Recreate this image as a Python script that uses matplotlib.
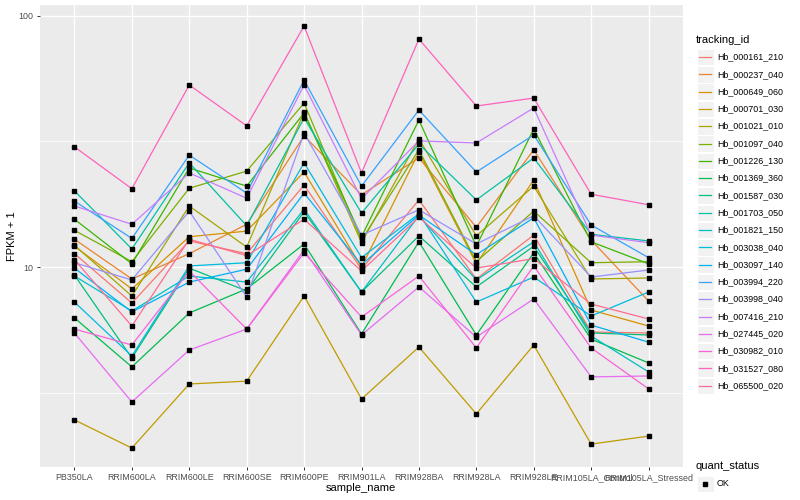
import numpy as np
import matplotlib
matplotlib.use("Agg")
import matplotlib.pyplot as plt
from matplotlib.patches import Rectangle
from matplotlib.ticker import FixedLocator, NullFormatter

plt.rcParams["font.family"] = ["Liberation Sans", "DejaVu Sans"]

# =====================================================
# DATA (FPKM + 1)
# =====================================================

samples = ["PB350LA", "RRIM600LA", "RRIM600LE", "RRIM600SE", "RRIM600PE",
           "RRIM901LA", "RRIM928BA", "RRIM928LA", "RRIM928LE",
           "RRIM105LA_Control", "RRIM105LA_Stressed"]

tracking_ids = ["Hb_000161_210", "Hb_000237_040", "Hb_000649_060", "Hb_000701_030",
                "Hb_001021_010", "Hb_001097_040", "Hb_001226_130", "Hb_001369_360",
                "Hb_001587_030", "Hb_001703_050", "Hb_001821_150", "Hb_003038_040",
                "Hb_003097_140", "Hb_003994_220", "Hb_003998_040", "Hb_007416_210",
                "Hb_027445_020", "Hb_030982_010", "Hb_031527_080", "Hb_065500_020"]

hb_000161_210 = [11.3, 7.19, 12.7, 11.3, 21.2, 9.8, 18.5, 8.96, 13.4, 5.51, 5.46]
hb_000237_040 = [12.9, 8.96, 11.3, 14.8, 33.3, 19.4, 27.2, 14.4, 29.3, 12.8, 7.32]
hb_000649_060 = [12.1, 8.18, 13.2, 13.9, 23.9, 10.0, 28.7, 10.3, 22.2, 6.74, 5.82]
hb_000701_030 = [2.46, 1.90, 3.42, 3.51, 7.66, 2.98, 4.80, 2.60, 4.89, 1.97, 2.12]
hb_001021_010 = [12.2, 7.66, 17.5, 12.0, 41.4, 12.5, 32.4, 13.3, 21.0, 8.96, 9.04]
hb_001097_040 = [14.0, 10.5, 20.6, 24.1, 45.0, 12.8, 29.3, 10.5, 16.7, 10.4, 10.5]
hb_001226_130 = [15.5, 10.3, 24.8, 21.0, 41.1, 13.2, 38.5, 12.1, 35.5, 12.6, 10.3]
hb_001369_360 = [6.27, 4.00, 6.56, 8.18, 12.35, 5.41, 12.6, 5.36, 11.4, 5.16, 4.15]
hb_001587_030 = [9.29, 4.34, 9.9, 8.03, 16.6, 7.95, 13.3, 8.33, 12.1, 5.46, 5.36]
hb_001703_050 = [20.1, 11.8, 26.0, 14.6, 39.2, 16.4, 30.9, 18.5, 27.2, 13.5, 12.7]
hb_001821_150 = [9.21, 6.68, 9.21, 8.71, 17.0, 7.95, 16.0, 8.88, 12.6, 5.31, 3.82]
hb_003038_040 = [7.25, 4.42, 10.1, 10.4, 26.0, 10.9, 16.3, 7.25, 9.12, 6.38, 7.95]
hb_003097_140 = [9.9, 6.62, 8.71, 9.8, 19.7, 10.2, 16.1, 11.2, 15.7, 5.87, 5.02]
hb_003994_220 = [18.3, 13.0, 27.9, 19.7, 55.6, 21.0, 42.2, 23.9, 33.6, 14.7, 10.9]
hb_003998_040 = [10.4, 8.88, 16.7, 7.59, 34.2, 13.4, 16.9, 12.35, 16.0, 9.12, 9.73]
hb_007416_210 = [17.5, 14.8, 23.7, 18.8, 53.1, 18.7, 31.8, 31.2, 43.0, 13.4, 12.5]
hb_027445_020 = [5.46, 2.90, 4.67, 5.66, 11.7, 5.36, 8.33, 5.26, 7.46, 3.65, 3.68]
hb_030982_010 = [5.66, 4.89, 9.64, 5.66, 11.4, 6.32, 9.21, 4.76, 10.1, 4.76, 3.27]
hb_031527_080 = [30.1, 20.5, 53.1, 36.5, 91.2, 23.7, 80.9, 43.8, 47.1, 19.5, 17.7]
hb_065500_020 = [10.7, 5.82, 12.9, 11.1, 15.5, 9.64, 15.8, 9.9, 10.8, 7.12, 6.21]

series = [hb_000161_210, hb_000237_040, hb_000649_060, hb_000701_030,
          hb_001021_010, hb_001097_040, hb_001226_130, hb_001369_360,
          hb_001587_030, hb_001703_050, hb_001821_150, hb_003038_040,
          hb_003097_140, hb_003994_220, hb_003998_040, hb_007416_210,
          hb_027445_020, hb_030982_010, hb_031527_080, hb_065500_020]

# ggplot hue palette, 20 levels
colors = ["#F8766D", "#EA8331", "#D89000", "#C09B00", "#A3A500", "#7CAE00",
          "#39B600", "#00BB4E", "#00BF7D", "#00C1A3", "#00BFC4", "#00BAE0",
          "#00B0F6", "#35A2FF", "#9590FF", "#C77CFF", "#E76BF3", "#FA62DB",
          "#FF62BC", "#FF6C91"]

# =====================================================
# PLOT
# =====================================================

W, H = 800, 500
fig = plt.figure(figsize=(8, 5), dpi=100)
ax = fig.add_axes([40 / W, 1 - 467 / H, (683 - 40) / W, (467 - 5) / H])
ax.set_facecolor("#EBEBEB")
for s in ax.spines.values():
    s.set_visible(False)

x = np.arange(1, len(samples) + 1)
for vals, col in zip(series, colors):
    ax.plot(x, vals, color=col, lw=0.9, zorder=2)
    ax.plot(x, vals, ls="none", marker="s", ms=2.3, color="black", zorder=3)

ax.set_yscale("log")
ax.set_ylim(1.597, 110.6)
ax.set_xlim(0.4, 11.6)

ax.yaxis.set_major_locator(FixedLocator([10, 100]))
ax.set_yticklabels(["10", "100"])
ax.yaxis.set_minor_locator(FixedLocator([10 ** 0.5, 10 ** 1.5]))
ax.yaxis.set_minor_formatter(NullFormatter())
ax.set_xticks(x)
ax.set_xticklabels(samples)

ax.set_axisbelow(True)
ax.grid(True, which="major", color="white", lw=1.0)
ax.grid(True, which="minor", axis="y", color="white", lw=0.5)
ax.tick_params(which="major", length=2.5, width=0.7, color="#333333",
               labelsize=6.4, labelcolor="#4D4D4D", pad=2)
ax.tick_params(which="minor", length=0)

fig.text(361 / W, 1 - 488 / H, "sample_name", ha="center", va="center",
         fontsize=8, color="black")
fig.text(12 / W, 1 - 236 / H, "FPKM + 1", ha="center", va="center",
         rotation=90, fontsize=8, color="black")

# =====================================================
# LEGENDS (drawn by hand, ggplot style)
# =====================================================

lg = fig.add_axes([0, 0, 1, 1])
lg.set_xlim(0, W)
lg.set_ylim(H, 0)
lg.axis("off")

lg.text(696, 40, "tracking_id", ha="left", va="center", fontsize=8)
for i, (name, col) in enumerate(zip(tracking_ids, colors)):
    yc = 57 + 17.3 * i
    lg.add_patch(Rectangle((697, yc - 8.2), 16.5, 16.5, facecolor="#F2F2F2",
                           edgecolor="white", lw=0.8))
    lg.plot([699, 711], [yc, yc], color=col, lw=0.9)
    lg.text(717, yc, name, ha="left", va="center", fontsize=6.4)

lg.text(696, 466, "quant_status", ha="left", va="center", fontsize=8)
lg.add_patch(Rectangle((697, 484 - 8.2), 16.5, 16.5, facecolor="#F2F2F2",
                       edgecolor="white", lw=0.8))
lg.plot([705], [484], marker="s", ms=2.3, color="black")
lg.text(717, 484, "OK", ha="left", va="center", fontsize=6.4)

fig.savefig("out.png", dpi=100)
